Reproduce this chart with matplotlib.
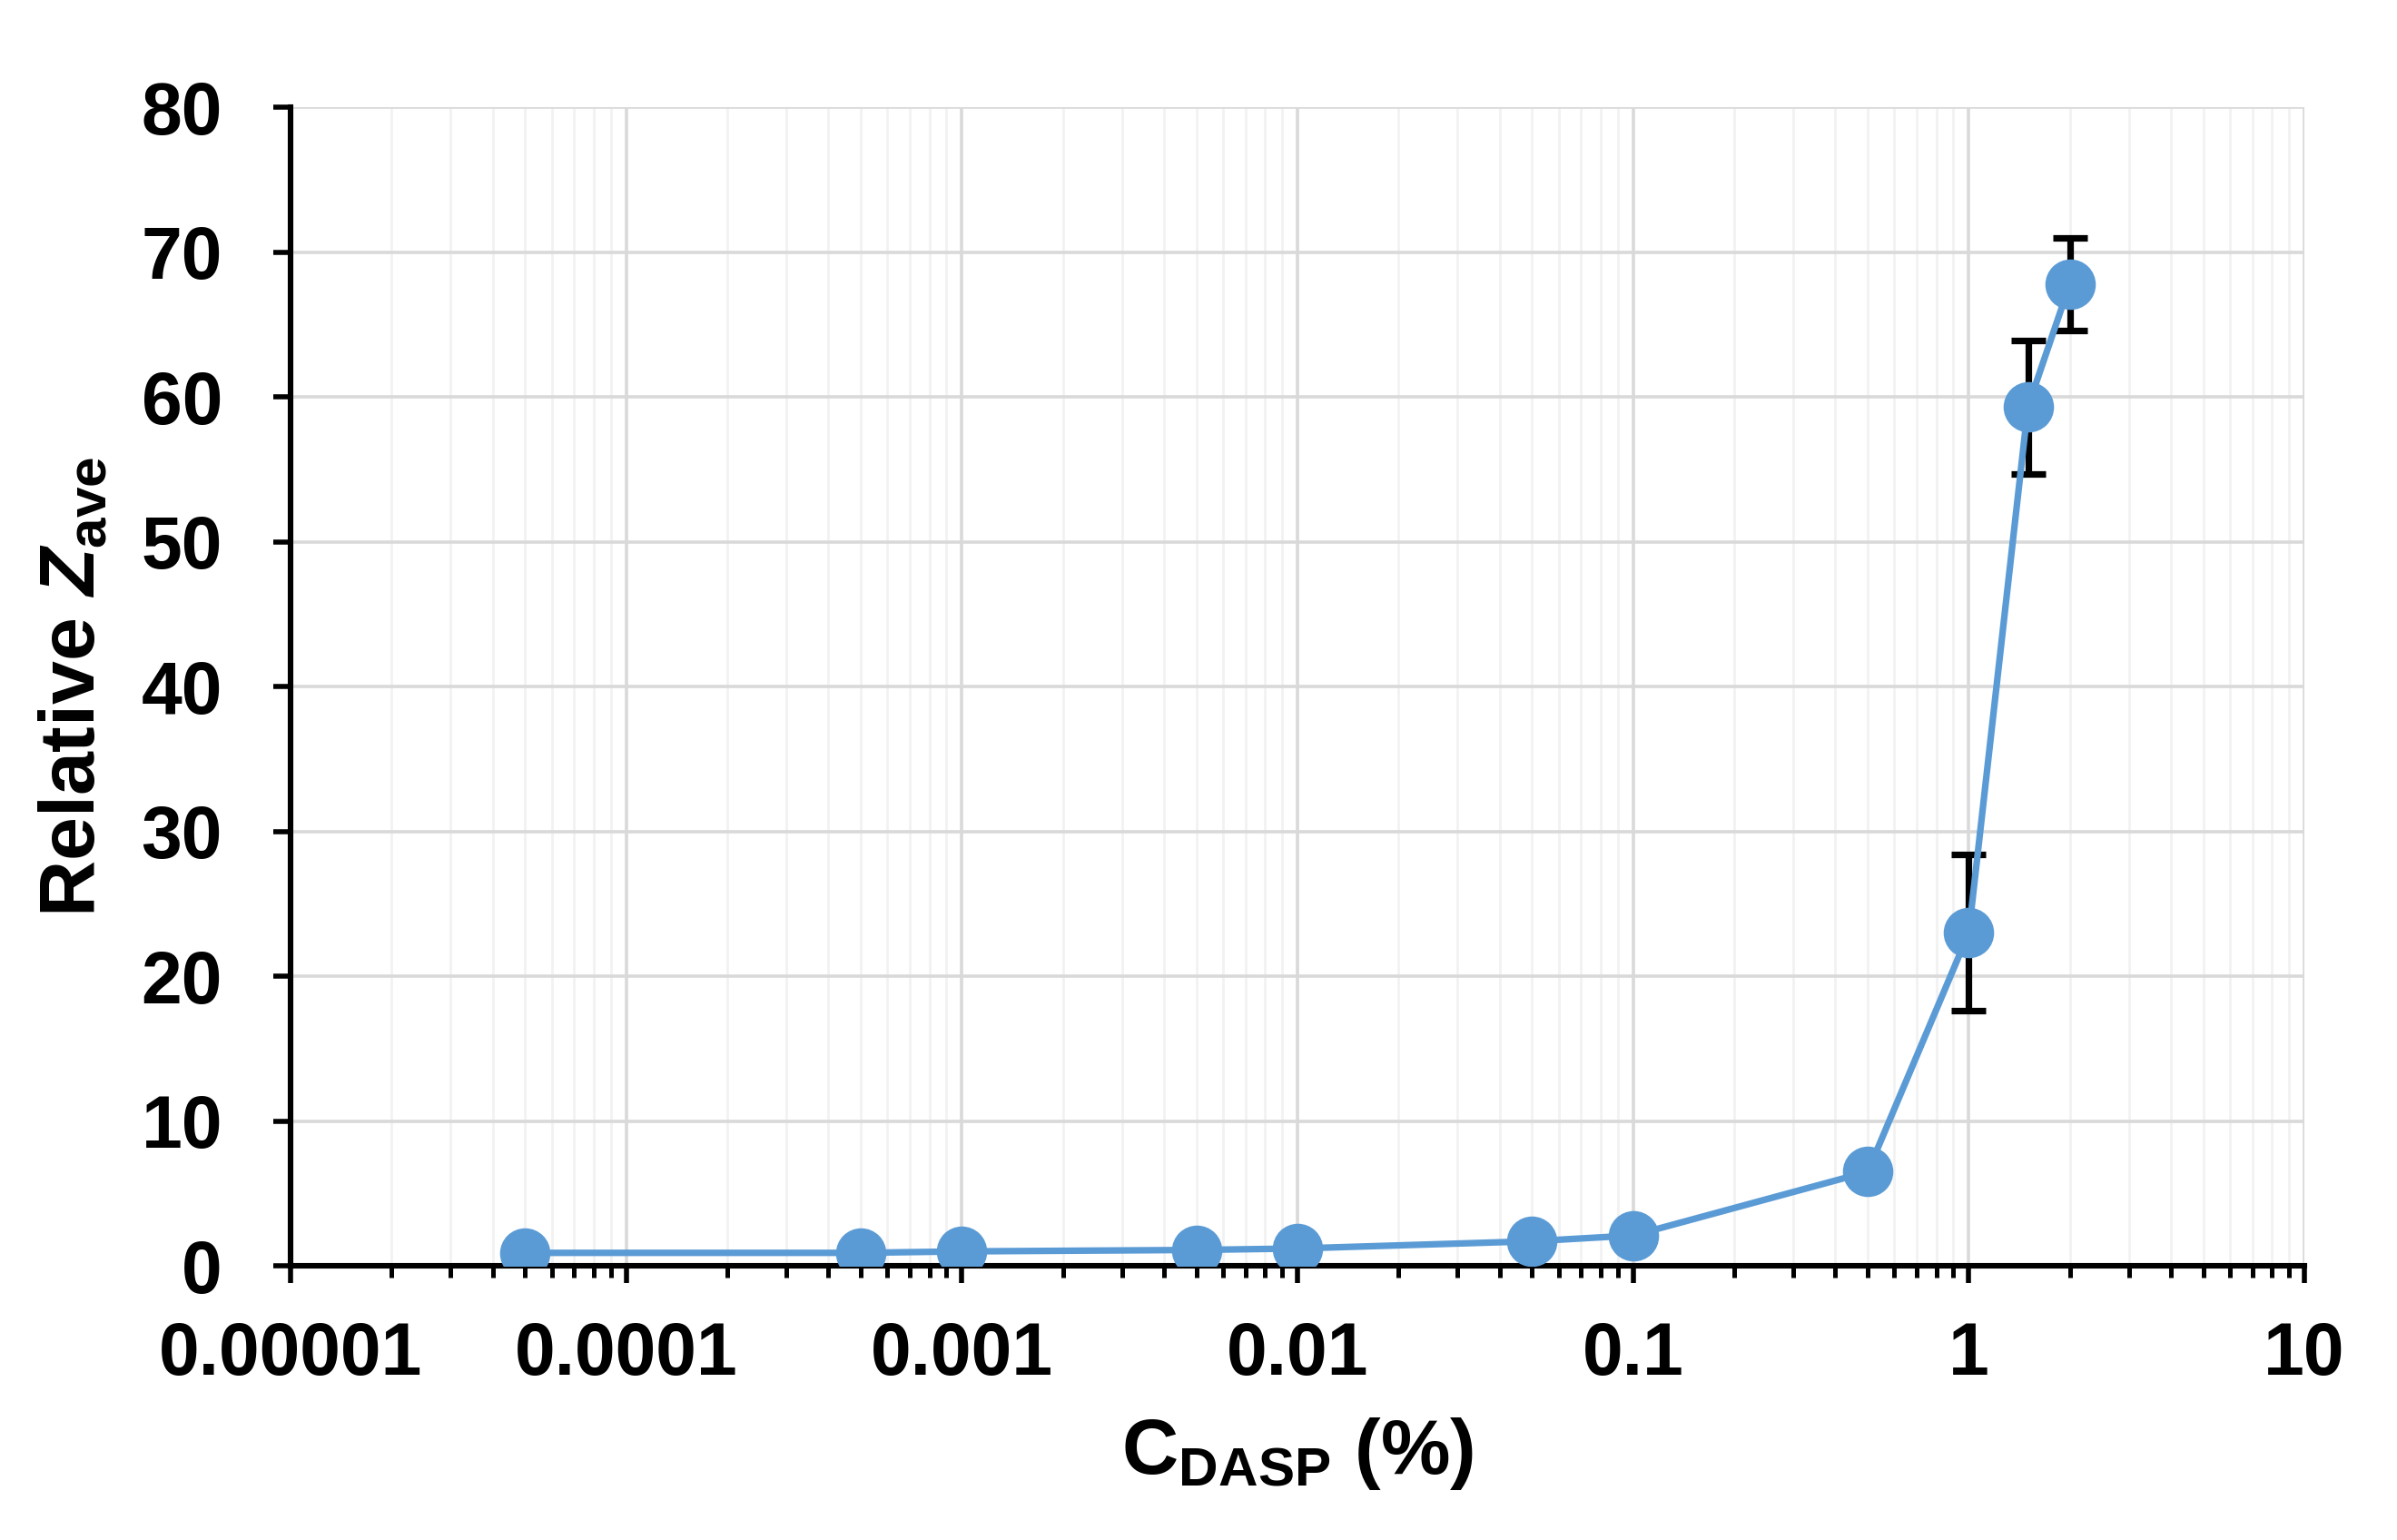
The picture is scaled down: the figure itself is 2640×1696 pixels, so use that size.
import matplotlib
matplotlib.use("Agg")
import matplotlib.pyplot as plt
from matplotlib.ticker import LogLocator, FixedLocator, NullFormatter, FixedFormatter

plt.rcParams['font.family'] = ['Liberation Sans', 'DejaVu Sans']
plt.rcParams['font.weight'] = 'bold'
plt.rcParams['mathtext.fontset'] = 'custom'
plt.rcParams['mathtext.rm'] = 'Liberation Sans:bold'
plt.rcParams['mathtext.it'] = 'Liberation Sans:bold:italic'
plt.rcParams['mathtext.bf'] = 'Liberation Sans:bold'

# Data
conc = [0.00005, 0.0005, 0.001, 0.005, 0.01, 0.05, 0.1, 0.5, 1.0, 1.5, 2.0]
rel_z = [0.9, 0.9, 1.0, 1.1, 1.2, 1.7, 2.1, 6.5, 23.0, 59.3, 67.8]
err = [0, 0, 0, 0, 0, 0, 0, 0, 5.4, 4.6, 3.2]
x_ticks = [1e-5, 1e-4, 1e-3, 1e-2, 1e-1, 1, 10]
x_labels = ['0.00001', '0.0001', '0.001', '0.01', '0.1', '1', '10']
y_ticks = [0, 10, 20, 30, 40, 50, 60, 70, 80]

fig = plt.figure(figsize=(13.2, 8.48), dpi=200)
ax = fig.add_axes([0.1212, 0.178, 0.8402, 0.7524])

blue = '#5B9BD5'
ax.errorbar(conc, rel_z, yerr=err, fmt='none',
            ecolor='black', elinewidth=2.6, capsize=7, capthick=2.6, zorder=2)
ax.plot(conc, rel_z, color=blue, lw=2.6, marker='o', markersize=19,
        markerfacecolor=blue, markeredgecolor=blue, zorder=3)

ax.set_xscale('log')
ax.set_xlim(1e-5, 10)
ax.set_ylim(0, 80)
ax.xaxis.set_major_locator(FixedLocator(x_ticks))
ax.xaxis.set_major_formatter(FixedFormatter(x_labels))
ax.xaxis.set_minor_locator(LogLocator(base=10, subs=range(2, 10), numticks=50))
ax.xaxis.set_minor_formatter(NullFormatter())
ax.set_yticks(y_ticks)

ax.grid(True, which='major', color='#D9D9D9', lw=1.3, zorder=0)
ax.grid(True, which='minor', axis='x', color='#F2F2F2', lw=1.0, zorder=0)
ax.set_axisbelow(True)

for s in ['top', 'right']:
    ax.spines[s].set_visible(False)
for s in ['left', 'bottom']:
    ax.spines[s].set_linewidth(2.2)
    ax.spines[s].set_color('black')

ax.tick_params(axis='both', which='major', direction='out', length=7, width=2.0,
               labelsize=29, color='black')
ax.tick_params(axis='x', which='major', pad=15)
ax.tick_params(axis='y', which='major', pad=20)
ax.tick_params(axis='x', which='minor', direction='out', length=4.5, width=1.8, color='black')

ax.set_ylabel(r'Relative $\mathit{Z}_{\mathrm{ave}}$', fontsize=31, fontweight='bold', labelpad=12)
ax.set_xlabel(r'C$_{\mathrm{DASP}}$ (%)', fontsize=31, fontweight='bold', labelpad=10)

fig.savefig('out.png', dpi=200)
